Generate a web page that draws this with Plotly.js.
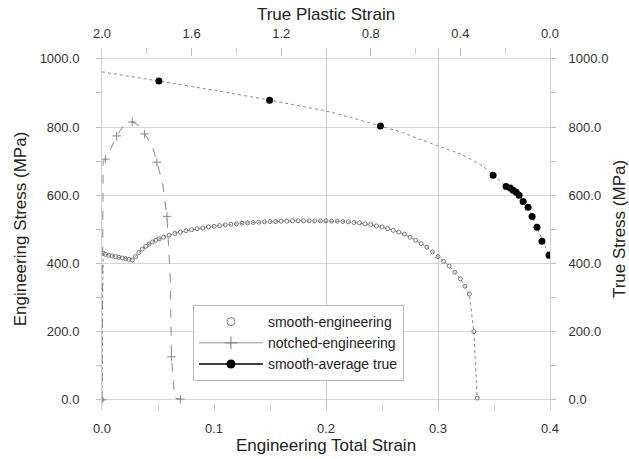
<!DOCTYPE html>
<html>
<head>
<meta charset="utf-8">
<script src="https://cdn.plot.ly/plotly-3.0.1.min.js"></script>
<style>html,body{margin:0;padding:0;background:#fff;}#chart{width:629px;height:459px;}</style>
</head>
<body>
<div id="chart"></div>
<script>
// smooth-engineering (engineering total strain vs engineering stress, MPa)
var smoothStrain = [0.000,0.001,0.003,0.006,0.009,0.012,0.015,0.018,0.021,0.024,0.027,0.030,0.033,0.036,0.039,0.042,0.045,0.048,0.051,0.055,0.060,0.065,0.070,0.075,0.080,0.085,0.090,0.095,0.100,0.105,0.110,0.115,0.120,0.125,0.130,0.135,0.140,0.145,0.150,0.155,0.160,0.165,0.170,0.175,0.180,0.185,0.190,0.195,0.200,0.205,0.210,0.215,0.220,0.225,0.230,0.235,0.240,0.245,0.250,0.255,0.260,0.265,0.270,0.275,0.280,0.285,0.290,0.295,0.300,0.305,0.310,0.315,0.320,0.324,0.328,0.332,0.335];
var smoothStress = [0,430,427,424,422,420,418,416,414,412,410,420,432,442,450,457,463,468,472,477,483,488,492,496,499,502,504,507,509,511,513,515,516,518,519,520,521,522,523,523,524,524,525,525,525,525,525,525,525,524,524,523,522,520,519,516,514,510,507,502,497,492,486,477,468,458,448,434,420,406,392,374,355,333,310,200,5];

// notched-engineering
var notchStrain = [0.000,0.001,0.003,0.007,0.013,0.019,0.027,0.034,0.038,0.045,0.049,0.054,0.058,0.061,0.062,0.065,0.070];
var notchStress = [0,700,706,730,774,803,815,803,780,744,697,638,538,353,126,5,2];

// smooth-average true (true plastic strain vs true stress, MPa)
var trueStrain = [1.746,1.252,0.757,0.254,0.196,0.178,0.165,0.151,0.138,0.120,0.098,0.080,0.058,0.036,0.004];
var trueStress = [935,879,803,659,626,621,615,609,600,582,565,538,506,465,424];

// dotted trend line of the true curve
var fitStrain = [2.0,1.746,1.5,1.252,1.0,0.9,0.757,0.65,0.584,0.5,0.39,0.3,0.254,0.196,0.151,0.098,0.058,0.004];
var fitStress = [962,935,908,879,847,830,803,782,765,745,718,685,659,626,609,565,506,424];

var seriesNames = ['smooth-engineering','notched-engineering','smooth-average true'];
var xGridAt = [0.2, 0.3];

var gray = '#8a8a8a';
var traces = [
  {x:[null], y:[null], xaxis:'x3', yaxis:'y', showlegend:false, mode:'markers', hoverinfo:'skip'},
  {x: smoothStrain, y: smoothStress, xaxis:'x', yaxis:'y', mode:'lines+markers', showlegend:false,
   line:{color:gray, width:1, dash:'dot'},
   marker:{symbol:'circle-open', size:4, color:'#777', line:{width:1}}},
  {x: notchStrain, y: notchStress, xaxis:'x', yaxis:'y', mode:'lines+markers', showlegend:false,
   line:{color:gray, width:1, dash:'dash'},
   marker:{symbol:'cross-thin-open', size:6, color:'#888', maxdisplayed:9, line:{width:1, color:'#888'}}},
  {x: fitStrain, y: fitStress, xaxis:'x2', yaxis:'y2', mode:'lines', showlegend:false,
   line:{color:gray, width:1, dash:'dot', shape:'spline', smoothing:0.6}},
  {x: trueStrain, y: trueStress, xaxis:'x2', yaxis:'y2', mode:'markers', showlegend:false,
   marker:{symbol:'circle', size:7, color:'#000'}},
  // legend entries
  {x:[null], y:[null], xaxis:'x', yaxis:'y', name: seriesNames[0], mode:'markers',
   marker:{symbol:'circle-open', size:8, color:'#777', line:{width:1}}},
  {x:[null], y:[null], xaxis:'x', yaxis:'y', name: seriesNames[1], mode:'lines+markers',
   line:{color:'#999', width:1}, marker:{symbol:'cross-thin-open', size:9, color:'#777', line:{width:1, color:'#777'}}},
  {x:[null], y:[null], xaxis:'x', yaxis:'y', name: seriesNames[2], mode:'lines+markers',
   line:{color:'#000', width:1.5}, marker:{symbol:'circle', size:9, color:'#000'}}
];

var tickFont = {family:'Liberation Sans, Arial, sans-serif', size:13, color:'#333'};
var titleFont = {family:'Liberation Sans, Arial, sans-serif', size:17, color:'#222'};
var yRange = [-30, 1032];

var layout = {
  width:629, height:459,
  margin:{l:102, r:79, t:48, b:49, pad:0},
  paper_bgcolor:'#fff', plot_bgcolor:'#fff',
  showlegend:true,
  legend:{x:0.203, y:0.29, xanchor:'left', yanchor:'top', bgcolor:'#fff', bordercolor:'#bbb', borderwidth:1,
          font:{family:'Liberation Sans, Arial, sans-serif', size:14, color:'#222'}, tracegroupgap:0, itemwidth:64},
  xaxis:{range:[0,0.4], dtick:0.1, tickformat:'.1f', showline:false, zeroline:false,
         showgrid:false,
         ticks:'inside', ticklen:6, tickcolor:'#bbb',
         minor:{dtick:0.05, ticks:'inside', ticklen:6, tickcolor:'#ccc', showgrid:false},
         tickfont:tickFont, ticklabelstandoff:9,
         title:{text:'Engineering Total Strain', font:titleFont, standoff:3}},
  xaxis3:{range:[0,0.4], overlaying:'x', anchor:'y', side:'bottom', tickvals:xGridAt,
          showticklabels:false, ticks:'', showline:false, zeroline:false,
          showgrid:true, gridcolor:'#cccccc', gridwidth:1},
  xaxis2:{range:[2.0,0.0], dtick:0.4, tickformat:'.1f', overlaying:'x', side:'top', anchor:'y',
          showline:false, zeroline:false, showgrid:false,
          ticks:'inside', ticklen:8, tickcolor:'#bbb',
          minor:{dtick:0.2, ticks:'inside', ticklen:6, tickcolor:'#ccc', showgrid:false},
          tickfont:tickFont, ticklabelstandoff:6,
          title:{text:'True Plastic Strain', font:titleFont, standoff:1}},
  yaxis:{range:yRange, dtick:200, tickformat:'.1f', showline:true, linecolor:'#cfcfcf', linewidth:1,
         zeroline:false, showgrid:true, gridcolor:'#d6d6d6', gridwidth:1,
         ticks:'outside', ticklen:5, tickcolor:'#bbb',
         minor:{dtick:100, ticks:'outside', ticklen:5, tickcolor:'#bbb', showgrid:false},
         tickfont:tickFont, ticklabelstandoff:14,
         title:{text:'Engineering Stress (MPa)', font:titleFont, standoff:8}},
  yaxis2:{range:yRange, dtick:200, tickformat:'.1f', overlaying:'y', side:'right', anchor:'x',
          showline:true, linecolor:'#cfcfcf', linewidth:1, zeroline:false, showgrid:false,
          ticks:'outside', ticklen:5, tickcolor:'#bbb',
          minor:{dtick:100, ticks:'outside', ticklen:5, tickcolor:'#bbb', showgrid:false},
          tickfont:tickFont, ticklabelstandoff:10,
          title:{text:'True Stress (MPa)', font:titleFont, standoff:10}}
};

Plotly.newPlot('chart', traces, layout, {staticPlot:true, displayModeBar:false});
</script>
</body>
</html>
